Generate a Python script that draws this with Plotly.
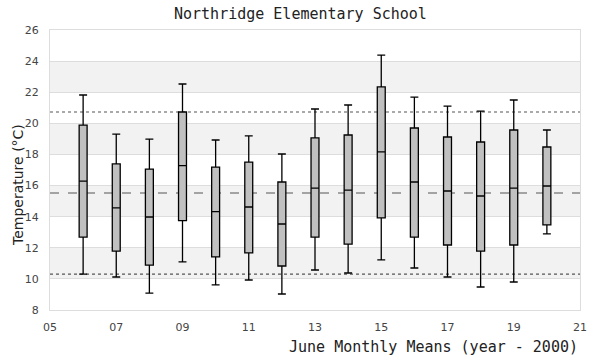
import plotly.graph_objects as go

years = [6, 7, 8, 9, 10, 11, 12, 13, 14, 15, 16, 17, 18, 19, 20]
upper = [21.82, 19.31, 18.99, 22.53, 18.93, 19.19, 18.03, 20.92, 21.18, 24.39, 21.69, 21.11, 20.79, 21.50, 19.57]
q3 =    [19.89, 17.39, 17.06, 20.73, 17.19, 17.51, 16.23, 19.06, 19.25, 22.34, 19.70, 19.12, 18.80, 19.57, 18.48]
median = [16.29, 14.56, 13.98, 17.28, 14.32, 14.62, 13.53, 15.84, 15.71, 18.16, 16.23, 15.65, 15.33, 15.84, 15.97]
q1 =    [12.69, 11.79, 10.89, 13.74, 11.41, 11.67, 10.83, 12.69, 12.24, 13.92, 12.69, 12.18, 11.79, 12.18, 13.47]
lower = [10.31, 10.12, 9.09, 11.09, 9.61, 9.93, 9.03, 10.57, 10.38, 11.22, 10.70, 10.12, 9.48, 9.80, 12.89]

mean_line = 15.52
upper_line = 20.73
lower_line = 10.31

xtick_vals = [5, 7, 9, 11, 13, 15, 17, 19, 21]
xtick_text = ["05", "07", "09", "11", "13", "15", "17", "19", "21"]
ytick_vals = [8, 10, 12, 14, 16, 18, 20, 22, 24, 26]

mono = "DejaVu Sans Mono"
sans = "DejaVu Sans"

fig = go.Figure()
fig.add_trace(go.Box(
    x=years, q1=q1, median=median, q3=q3,
    lowerfence=lower, upperfence=upper,
    width=0.24, whiskerwidth=1,
    fillcolor="#c0c0c0",
    line=dict(color="#000000", width=1.3),
    boxpoints=False, hoverinfo="skip", showlegend=False,
))

shapes = []
for lo in [10, 14, 18, 22]:
    shapes.append(dict(type="rect", xref="paper", yref="y", x0=0, x1=1, y0=lo, y1=lo + 2,
                       fillcolor="#f2f2f2", line=dict(width=0), layer="below"))
for yv, dash in [(upper_line, "dot"), (mean_line, "dash"), (lower_line, "dot")]:
    shapes.append(dict(type="line", xref="paper", yref="y", x0=0, x1=1, y0=yv, y1=yv,
                       line=dict(color="#555555", width=1.2, dash=dash), layer="between"))

fig.update_layout(
    width=600, height=360,
    margin=dict(l=50, r=20, t=30, b=50),
    paper_bgcolor="white", plot_bgcolor="white",
    shapes=shapes,
    xaxis=dict(range=[5, 21], tickvals=xtick_vals, ticktext=xtick_text,
               showgrid=False, zeroline=False, showline=True, mirror=True,
               linecolor="#dddddd", linewidth=1, ticks="", ticklabelstandoff=7,
               tickfont=dict(family=sans, size=11, color="#444444")),
    yaxis=dict(range=[8, 26], tickvals=ytick_vals, showgrid=True, gridcolor="#dddddd",
               gridwidth=1, zeroline=False, showline=True, mirror=True,
               linecolor="#dddddd", linewidth=1, ticks="", ticklabelstandoff=8,
               tickfont=dict(family=sans, size=11, color="#444444")),
    annotations=[
        dict(text="Northridge Elementary School", xref="paper", yref="paper",
             x=(300 - 50) / 530, y=1, yshift=16, xanchor="center", yanchor="middle",
             showarrow=False, font=dict(family=mono, size=15, color="#222222")),
        dict(text="June Monthly Means (year - 2000)", xref="paper", yref="paper",
             x=1, y=0, yshift=-37, xanchor="right", yanchor="middle",
             showarrow=False, font=dict(family=mono, size=15, color="#222222")),
        dict(text="Temperature (°C)", xref="paper", yref="paper",
             x=0, xshift=-32, y=(310 - 185) / 280, xanchor="center", yanchor="middle",
             textangle=-90, showarrow=False, font=dict(family=sans, size=14, color="#222222")),
    ],
)

fig.write_html("out.html", config={"displayModeBar": False},
               post_script="document.body.style.margin='0';")
